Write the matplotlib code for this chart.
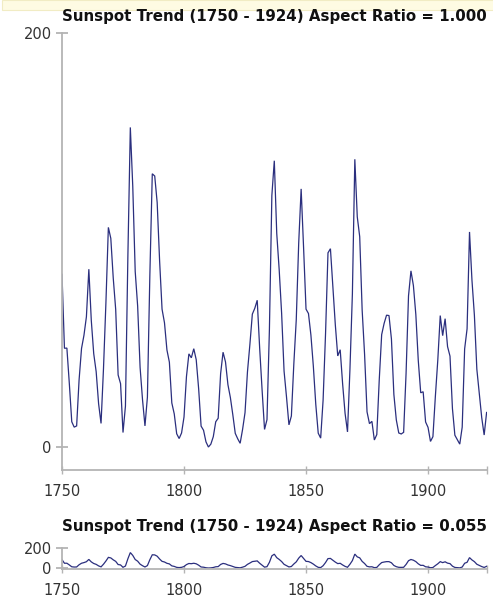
import numpy as np
import matplotlib.pyplot as plt
from matplotlib.patches import Rectangle

# yearly sunspot numbers, 1750 - 1924
years = np.arange(1750, 1925)
sunspots = [
    83.4, 47.7, 47.8, 30.7, 12.2, 9.6, 10.2, 32.4, 47.6, 54.0,
    62.9, 85.9, 61.2, 45.1, 36.4, 20.9, 11.4, 37.8, 69.8, 106.1,
    100.8, 81.6, 66.5, 34.8, 30.6, 7.0, 19.8, 92.5, 154.4, 125.9,
    84.8, 68.1, 38.5, 22.8, 10.2, 24.1, 82.9, 132.0, 130.9, 118.1,
    89.9, 66.6, 60.0, 46.9, 41.0, 21.3, 16.0, 6.4, 4.1, 6.8,
    14.5, 34.0, 45.0, 43.1, 47.5, 42.2, 28.1, 10.1, 8.1, 2.5,
    0.0, 1.4, 5.0, 12.2, 13.9, 35.4, 45.8, 41.1, 30.1, 23.9,
    15.6, 6.6, 4.0, 1.8, 8.5, 16.6, 36.3, 49.6, 64.2, 67.0,
    70.9, 47.8, 27.5, 8.5, 13.2, 56.9, 121.5, 138.3, 103.2, 85.7,
    64.6, 36.7, 24.2, 10.7, 15.0, 40.1, 61.5, 98.5, 124.7, 96.3,
    66.6, 64.5, 54.1, 39.0, 20.6, 6.7, 4.3, 22.7, 54.8, 93.8,
    95.8, 77.2, 59.1, 44.0, 47.0, 30.5, 16.3, 7.3, 37.6, 74.0,
    139.0, 111.2, 101.6, 66.2, 44.7, 17.0, 11.3, 12.4, 3.4, 6.0,
    32.3, 54.3, 59.7, 63.7, 63.5, 52.2, 25.4, 13.1, 6.8, 6.3,
    7.1, 35.6, 73.0, 85.1, 78.0, 64.0, 41.8, 26.2, 26.7, 12.1,
    9.5, 2.7, 5.0, 24.4, 42.0, 63.5, 53.8, 62.0, 48.5, 43.9,
    18.6, 5.7, 3.6, 1.4, 9.6, 47.4, 57.1, 103.9, 80.6, 63.6,
    37.6, 26.1, 14.2, 5.8, 16.7,
]
x_ticks = [1750, 1800, 1850, 1900]
titles = ["Sunspot Trend (1750 - 1924) Aspect Ratio = 1.000",
          "Sunspot Trend (1750 - 1924) Aspect Ratio = 0.055"]

W, H = 493, 597
line_color = "#2b2f7e"
axis_color = "#b4b4b4"
text_color = "#333333"

fig = plt.figure(figsize=(W / 100, H / 100), dpi=100)
fig.patch.set_facecolor("white")

# pale yellow strip across the top of the screenshot
fig.patches.append(Rectangle((2 / W, 1 - 10 / H), 1, 10 / H, transform=fig.transFigure,
                             facecolor="#fefbe3", edgecolor="#f1ecc4", lw=0.8))


def fx(px):
    return px / W


def fy(px):
    return 1 - px / H


def style_axes(ax, y_low, x_tick_len, y_tick_len):
    ax.plot(years, sunspots, color=line_color, lw=0.9, solid_joinstyle="miter")
    ax.set_xlim(1750, 1924)
    ax.set_ylim(y_low, 200)
    ax.set_xticks(x_ticks + [1924])
    ax.set_xticklabels([str(t) for t in x_ticks] + [""])
    ax.set_yticks([0, 200])
    ax.set_yticklabels(["0", "200"])
    for side in ["top", "right"]:
        ax.spines[side].set_visible(False)
    for side in ["left", "bottom"]:
        ax.spines[side].set_color(axis_color)
        ax.spines[side].set_linewidth(1.3)
    ax.tick_params(axis="x", direction="inout", length=x_tick_len, width=1,
                   color=axis_color, labelcolor=text_color, labelsize=10.5, pad=7)
    ax.tick_params(axis="y", direction="inout", length=y_tick_len, width=1.3,
                   color=axis_color, labelcolor=text_color, labelsize=10.5, pad=3)
    ax.patch.set_alpha(0)


left, right = fx(62), fx(486.6)

# main chart, aspect ratio 1.000
ax1 = fig.add_axes([left, fy(470), right - left, fy(33) - fy(470)])
style_axes(ax1, -11.1, 6, 9)
fig.text(fx(62), fy(16), titles[0], fontsize=10.8, fontweight="bold",
         color="#111111", ha="left", va="center")

# small chart, aspect ratio 0.055
ax2 = fig.add_axes([left, fy(569), right - left, fy(548) - fy(569)])
style_axes(ax2, -10, 6, 9)
fig.text(fx(62), fy(527), titles[1], fontsize=10.8, fontweight="bold",
         color="#111111", ha="left", va="center")

fig.savefig("out.png", dpi=100)
